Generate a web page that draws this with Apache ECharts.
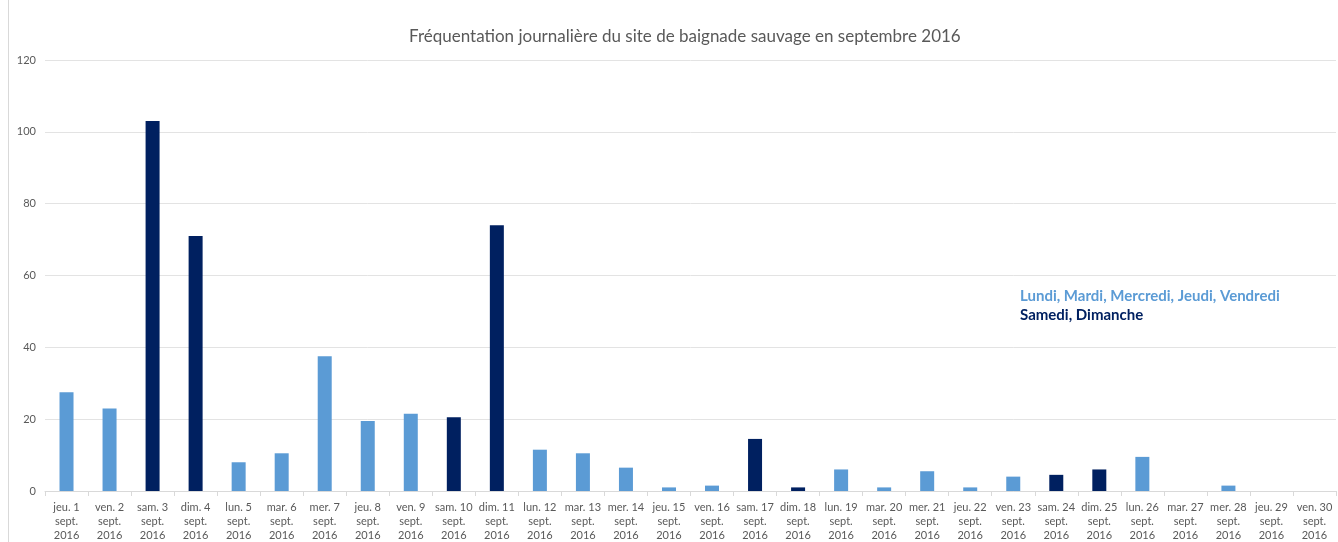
<!DOCTYPE html>
<html>
<head>
<meta charset="utf-8">
<title>Fréquentation septembre 2016</title>
<script src="https://cdn.jsdelivr.net/npm/echarts@6/dist/echarts.min.js"></script>
<style>
  html, body { margin: 0; padding: 0; background: #fff; }
  #main { width: 1338px; height: 542px; }
</style>
</head>
<body>
<div id="main"></div>
<script>
// jours du mois (abrégés) et numéro
var dayNames = ['jeu.', 'ven.', 'sam.', 'dim.', 'lun.', 'mar.', 'mer.',
  'jeu.', 'ven.', 'sam.', 'dim.', 'lun.', 'mar.', 'mer.',
  'jeu.', 'ven.', 'sam.', 'dim.', 'lun.', 'mar.', 'mer.',
  'jeu.', 'ven.', 'sam.', 'dim.', 'lun.', 'mar.', 'mer.',
  'jeu.', 'ven.'];
var dayNums = [1, 2, 3, 4, 5, 6, 7, 8, 9, 10, 11, 12, 13, 14, 15,
  16, 17, 18, 19, 20, 21, 22, 23, 24, 25, 26, 27, 28, 29, 30];
// fréquentation journalière
var visitors = [27.5, 23, 103, 71, 8, 10.5, 37.5, 19.5, 21.5, 20.5,
  74, 11.5, 10.5, 6.5, 1, 1.5, 14.5, 1, 6, 1,
  5.5, 1, 4, 4.5, 6, 9.5, 0, 1.5, 0, 0];
var weekend = ['sam.', 'dim.'];
var yTicks = [0, 20, 40, 60, 80, 100, 120];

var categories = dayNames.map(function (d, i) {
  return d + ' ' + dayNums[i] + '\nsept.\n2016';
});

var lightBlue = '#5B9BD5';
var darkBlue = '#002060';

var chart = echarts.init(document.getElementById('main'));

var option = {
  backgroundColor: '#fff',
  animation: false,
  textStyle: { fontFamily: 'Lato, "Open Sans", sans-serif' },
  title: {
    text: 'Fréquentation journalière du site de baignade sauvage en septembre 2016',
    left: 404,
    top: 23,
    textStyle: { fontSize: 17, fontWeight: 'normal', color: '#595959', fontFamily: 'Lato, sans-serif' }
  },
  grid: { left: 45, right: 2, top: 60, bottom: 50, containLabel: false },
  xAxis: {
    type: 'category',
    data: categories,
    axisLine: { lineStyle: { color: '#d9d9d9' } },
    axisTick: { show: true, length: 5, lineStyle: { color: '#d9d9d9' } },
    axisLabel: {
      interval: 0,
      color: '#595959',
      fontSize: 11,
      lineHeight: 14,
      margin: 9
    }
  },
  yAxis: {
    type: 'value',
    min: yTicks[0],
    max: yTicks[yTicks.length - 1],
    interval: 20,
    axisLine: { show: false },
    axisTick: { show: false },
    splitLine: { lineStyle: { color: '#e3e3e3' } },
    axisLabel: { color: '#595959', fontSize: 11, margin: 9 }
  },
  series: [{
    type: 'bar',
    barWidth: 14,
    data: visitors.map(function (v, i) {
      return {
        value: v,
        itemStyle: { color: weekend.indexOf(dayNames[i]) >= 0 ? darkBlue : lightBlue }
      };
    })
  }],
  graphic: [
    {
      type: 'line',
      shape: { x1: 8.5, y1: 0, x2: 8.5, y2: 542 },
      style: { stroke: '#d9d9d9', lineWidth: 1 }
    },
    {
      type: 'text',
      left: 1020,
      top: 289,
      style: {
        text: 'Lundi, Mardi, Mercredi, Jeudi, Vendredi',
        fill: lightBlue,
        font: 'bold 15px Lato, sans-serif'
      }
    },
    {
      type: 'text',
      left: 1020,
      top: 308,
      style: {
        text: 'Samedi, Dimanche',
        fill: darkBlue,
        font: 'bold 15px Lato, sans-serif'
      }
    }
  ]
};

chart.setOption(option);
</script>
</body>
</html>
